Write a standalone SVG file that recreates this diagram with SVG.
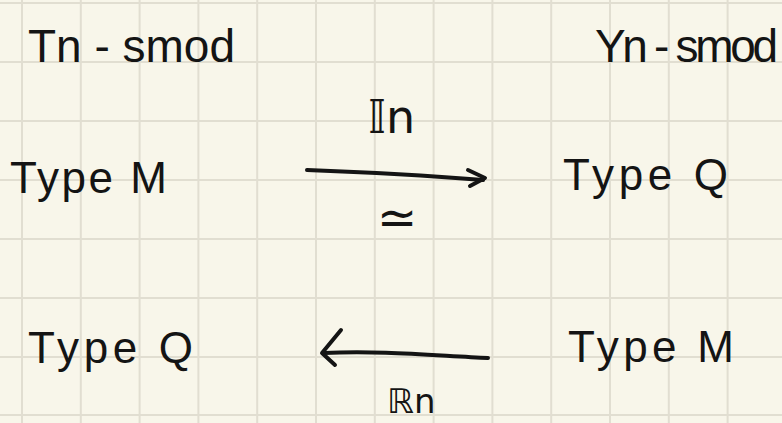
<svg xmlns="http://www.w3.org/2000/svg" width="782" height="423" viewBox="0 0 782 423">
<defs>
<style>
.bg{fill:#f8f6ea}
.grid line{stroke:#e1ded1;stroke-width:2}
.t{font-family:"Liberation Sans","DejaVu Sans",sans-serif;font-size:44px;fill:#141414}
.h{font-size:46px}
.m{font-family:"DejaVu Sans","Liberation Sans",sans-serif;fill:#141414}
.conn path{fill:none;stroke:#141414;stroke-width:4;stroke-linecap:round;stroke-linejoin:round}
</style>
</defs>
<rect class="bg" x="0" y="0" width="782" height="423"/>
<g class="grid">
<line x1="22" y1="0" x2="22" y2="423"/>
<line x1="80.8" y1="0" x2="80.8" y2="423"/>
<line x1="139.6" y1="0" x2="139.6" y2="423"/>
<line x1="198.4" y1="0" x2="198.4" y2="423"/>
<line x1="257.2" y1="0" x2="257.2" y2="423"/>
<line x1="316" y1="0" x2="316" y2="423"/>
<line x1="374.8" y1="0" x2="374.8" y2="423"/>
<line x1="433.6" y1="0" x2="433.6" y2="423"/>
<line x1="492.4" y1="0" x2="492.4" y2="423"/>
<line x1="551.2" y1="0" x2="551.2" y2="423"/>
<line x1="610" y1="0" x2="610" y2="423"/>
<line x1="668.8" y1="0" x2="668.8" y2="423"/>
<line x1="727.6" y1="0" x2="727.6" y2="423"/>
<line x1="0" y1="3" x2="782" y2="3"/>
<line x1="0" y1="62" x2="782" y2="62"/>
<line x1="0" y1="121" x2="782" y2="121"/>
<line x1="0" y1="180" x2="782" y2="180"/>
<line x1="0" y1="239" x2="782" y2="239"/>
<line x1="0" y1="298" x2="782" y2="298"/>
<line x1="0" y1="357" x2="782" y2="357"/>
<line x1="0" y1="415" x2="782" y2="415"/>
</g>
<g id="header-tn">
<text class="t h" x="28" y="62" textLength="207" lengthAdjust="spacing">Tn - smod</text>
</g>
<g id="header-yn">
<text class="t h" x="595" y="62" textLength="183" lengthAdjust="spacing">Yn - smod</text>
</g>
<g id="node-tn-type-m">
<text class="t" x="10" y="193" textLength="157" lengthAdjust="spacing">Type M</text>
</g>
<g id="node-yn-type-q">
<text class="t" x="563" y="190" textLength="165" lengthAdjust="spacing">Type Q</text>
</g>
<g id="node-tn-type-q">
<text class="t" x="28" y="363" textLength="165" lengthAdjust="spacing">Type Q</text>
</g>
<g id="node-yn-type-m">
<text class="t" x="568" y="362" textLength="166" lengthAdjust="spacing">Type M</text>
</g>
<g id="connectors" class="conn">
<g id="edge-in">
<path d="M307,170 C360,172 420,175 483,180"/>
<path d="M468,170 L485,178 L470,186"/>
<text class="m" x="368" y="133" font-size="46">𝕀n</text>
<text class="m" x="377" y="234" font-size="48">≃</text>
</g>
<g id="edge-rn">
<path d="M488,358 C440,356 380,350 324,353"/>
<path d="M341,330 L322,353 L335,365"/>
<text class="m" x="387" y="413" font-size="34">ℝn</text>
</g>
</g>
</svg>
